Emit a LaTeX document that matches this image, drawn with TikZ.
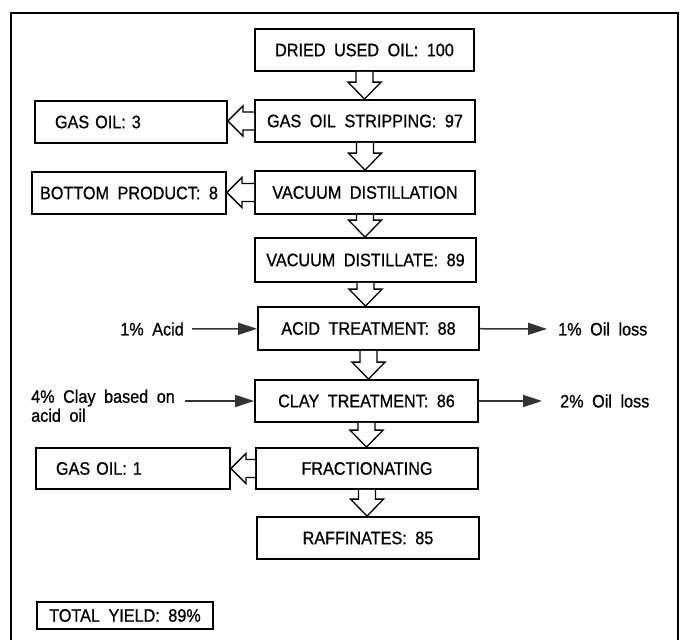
\documentclass[tikz,border=0pt]{standalone}
\usepackage{fontspec}
\setmainfont[WordSpace=1.9, FakeStretch=0.9, FakeBold=0.8]{Liberation Sans}
\usetikzlibrary{arrows.meta,calc}

\tikzset{
	box/.style = {draw, line width=1.8pt, inner sep=0pt, minimum height=42pt, font=\fontsize{18}{20}\selectfont},
	side/.style = {inner sep=0pt, font=\fontsize{18}{19}\selectfont},
	fatarrow/.style = {line width=1.3pt, fill=white, line join=miter},
	feed/.style = {line width=1.5pt, draw=black!80, -{Triangle[length=19pt,width=12pt]}},
}

% hollow arrows between two boxes
\newcommand{\fatdown}[2]{%
	\draw[fatarrow] ($(#1.south)+(-8.5,0)$) -- ($(#1.south |- #2.north)+(-8.5,-17)$) -- ++(-8,0)
		-- (#1.south |- #2.north) -- ++(16.5,-17) -- ++(-8,0) -- ($(#1.south)+(8.5,0)$);}
\newcommand{\fatleft}[2]{%
	\draw[fatarrow] ($(#1.west)+(0,-9)$) -- ($(#2.east |- #1.west)+(15,-9)$) -- ++(0,-6)
		-- (#2.east |- #1.west) -- ++(15,15) -- ++(0,-6) -- ($(#1.west)+(0,9)$);}

\begin{document}
\begin{tikzpicture}[x=1pt, y=-1pt]
	\useasboundingbox (0,0) rectangle (684,640);
	\draw[line width=1.2pt] (11,640) -- (11,13) -- (678,13) -- (678,640);

	% main column
	\node[box, minimum width=219pt] (dried) at (364.5,50) {DRIED USED OIL: 100};
	\node[box, minimum width=220pt] (strip) at (365,121) {GAS OIL STRIPPING: 97};
	\node[box, minimum width=220pt, minimum height=43pt] (vacuum) at (365,192.5) {VACUUM DISTILLATION};
	\node[box, minimum width=221pt, minimum height=44pt] (distillate) at (365.5,260) {VACUUM DISTILLATE: 89};
	\node[box, minimum width=221pt, minimum height=43pt] (acid) at (368.5,328.5) {ACID TREATMENT: 88};
	\node[box, minimum width=223pt] (clay) at (366.5,401) {CLAY TREATMENT: 86};
	\node[box, minimum width=222pt, minimum height=41pt] (frac) at (367,468.5) {FRACTIONATING};
	\node[box, minimum width=222pt] (raff) at (368,538) {RAFFINATES: 85};

	% side products
	\node[box, text width=152pt, inner xsep=20pt, align=left] (gasA) at (131,122) {GAS OIL: 3};
	\node[box, minimum width=194pt] (bottom) at (129,193) {BOTTOM PRODUCT: 8};
	\node[box, text width=154pt, inner xsep=20pt, minimum height=41pt, align=left] (gasB) at (133,468.5) {GAS OIL: 1};
	\node[box, minimum width=176pt, minimum height=27pt] (total) at (125,615.5) {TOTAL YIELD: 89\%};

	\fatdown{dried}{strip}
	\fatdown{strip}{vacuum}
	\fatdown{vacuum}{distillate}
	\fatdown{distillate}{acid}
	\fatdown{acid}{clay}
	\fatdown{clay}{frac}
	\fatdown{frac}{raff}
	\fatleft{strip}{gasA}
	\fatleft{vacuum}{bottom}
	\fatleft{frac}{gasB}

	% feeds and losses
	\node[side, anchor=east] (acidin) at (184,329) {1\% Acid};
	\node[side, anchor=west] (lossA) at (558,329) {1\% Oil loss};
	\node[side, anchor=north west, align=left] (clayin) at (31,389.5) {4\% Clay based on\\acid oil};
	\node[side, anchor=west] (lossB) at (560,401) {2\% Oil loss};
	\draw[feed, shorten <=8pt] (acidin) -- (acid);
	\draw[feed, shorten >=11pt] (acid) -- (lossA);
	\draw[feed, shorten <=10pt] (clayin.north east |- clay.west) -- (clay.west);
	\draw[feed, shorten >=18pt] (clay) -- (lossB);
\end{tikzpicture}
\end{document}
